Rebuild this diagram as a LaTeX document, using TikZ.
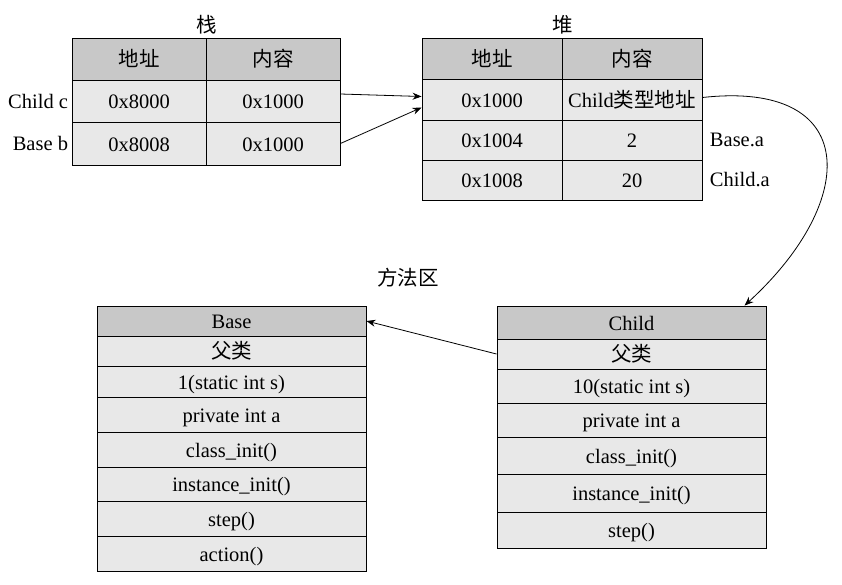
\documentclass[tikz,border=0pt]{standalone}
\usepackage{fontspec}
\setmainfont{Liberation Serif}
\newfontfamily\cjk{Noto Sans CJK SC}
\usetikzlibrary{arrows.meta,positioning}
\definecolor{headgray}{RGB}{200,200,200}
\definecolor{cellgray}{RGB}{232,232,232}

\begin{document}
\begin{tikzpicture}[x=1pt,y=-1pt]
     \tikzstyle{cell_style} = [draw=black,line width=0.9pt,fill=cellgray,inner sep=0pt,font=\fontsize{20.5}{24}\selectfont,text height=15pt,text depth=0pt]
     \tikzstyle{head_style} = [cell_style,fill=headgray]
     \tikzstyle{stack_col} = [minimum width=134pt]
     \tikzstyle{heap_col} = [minimum width=140pt]
     \tikzstyle{class_col} = [minimum width=269pt]
     \tikzstyle{label_style} = [font=\fontsize{20.5}{24}\selectfont]
     \tikzstyle{edge_style} = [draw=black,line width=0.8pt,-{Stealth[length=9pt,width=7pt]}]
     \useasboundingbox (0,0) rectangle (842,584);
     % stack
     \node[label_style] (stack) at (207,25) {\cjk 栈};
     \node[head_style,stack_col,minimum height=42pt] (s11) at (139,59) {\cjk 地址};
     \node[head_style,stack_col,minimum height=42pt] (s12) at (273,59) {\cjk 内容};
     \node[cell_style,stack_col,minimum height=42pt] (s21) at (139,101) {0x8000};
     \node[cell_style,stack_col,minimum height=42pt] (s22) at (273,101) {0x1000};
     \node[cell_style,stack_col,minimum height=43pt] (s31) at (139,143.5) {0x8008};
     \node[cell_style,stack_col,minimum height=43pt] (s32) at (273,143.5) {0x1000};
     \node[label_style,left=0pt of s21] (varc) {Child c};
     \node[label_style,left=0pt of s31] (varb) {Base b};
     % heap
     \node[label_style] (heap) at (563,25) {\cjk 堆};
     \node[head_style,heap_col,minimum height=41pt] (h11) at (492,58.5) {\cjk 地址};
     \node[head_style,heap_col,minimum height=41pt] (h12) at (632,58.5) {\cjk 内容};
     \node[cell_style,heap_col,minimum height=41pt] (h21) at (492,99.5) {0x1000};
     \node[cell_style,heap_col,minimum height=41pt] (h22) at (632,99.5) {Child\cjk 类型地址};
     \node[cell_style,heap_col,minimum height=40pt] (h31) at (492,140) {0x1004};
     \node[cell_style,heap_col,minimum height=40pt] (h32) at (632,140) {2};
     \node[cell_style,heap_col,minimum height=40pt] (h41) at (492,180) {0x1008};
     \node[cell_style,heap_col,minimum height=40pt] (h42) at (632,180) {20};
     \node[label_style,right=4pt of h32] (fielda) {Base.a};
     \node[label_style,right=4pt of h42] (fieldb) {Child.a};
     % method area
     \node[label_style] (method) at (408,278) {\cjk 方法区};
     \node[head_style,class_col,minimum height=30pt] (b1) at (231.5,321) {Base};
     \node[cell_style,class_col,minimum height=30pt] (b2) at (231.5,351) {\cjk 父类};
     \node[cell_style,class_col,minimum height=31pt] (b3) at (231.5,381.5) {1(static int s)};
     \node[cell_style,class_col,minimum height=35pt] (b4) at (231.5,414.5) {private int a};
     \node[cell_style,class_col,minimum height=35pt] (b5) at (231.5,449.5) {class\_init()};
     \node[cell_style,class_col,minimum height=34pt] (b6) at (231.5,484) {instance\_init()};
     \node[cell_style,class_col,minimum height=35pt] (b7) at (231.5,518.5) {step()};
     \node[cell_style,class_col,minimum height=35pt] (b8) at (231.5,553.5) {action()};
     \node[head_style,class_col,minimum height=33pt] (c1) at (631.5,322.5) {Child};
     \node[cell_style,class_col,minimum height=30pt] (c2) at (631.5,354) {\cjk 父类};
     \node[cell_style,class_col,minimum height=34pt] (c3) at (631.5,386) {10(static int s)};
     \node[cell_style,class_col,minimum height=34pt] (c4) at (631.5,420) {private int a};
     \node[cell_style,class_col,minimum height=37pt] (c5) at (631.5,455.5) {class\_init()};
     \node[cell_style,class_col,minimum height=38pt] (c6) at (631.5,493) {instance\_init()};
     \node[cell_style,class_col,minimum height=36pt] (c7) at (631.5,530) {step()};
     % references
     \draw[edge_style] ([yshift=7pt]s22.east) -- ([yshift=3pt]h21.west);
     \draw[edge_style] (s32.east) -- ([yshift=-8pt]h21.west);
     \draw[edge_style] ([yshift=2pt]h22.east) .. controls (860,80) and (860,200) .. ([xshift=113pt]c1.north);
     \draw[edge_style] (c2.west) -- (b1.east);
\end{tikzpicture}
\end{document}
